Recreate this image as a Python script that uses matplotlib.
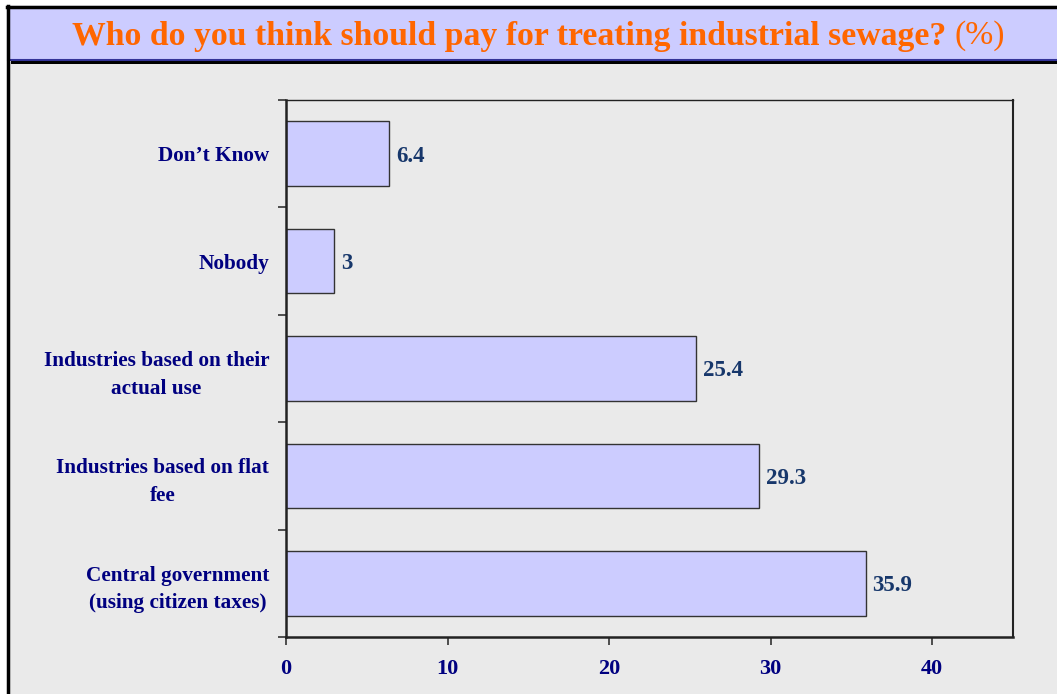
import matplotlib.pyplot as plt
from matplotlib.patches import Rectangle

# survey answers, bottom to top as drawn
categories = ['Central government\n(using citizen taxes)',
              'Industries based on flat\nfee',
              'Industries based on their\nactual use',
              'Nobody',
              'Don\u2019t Know']
values = [35.9, 29.3, 25.4, 3, 6.4]
value_labels = ['35.9', '29.3', '25.4', '3', '6.4']
xticks = [0, 10, 20, 30, 40]

TITLE = 'Who do you think should pay for treating industrial sewage?'
BG = '#eaeaea'
BAR = '#ccccff'
NAVY = '#000080'
VAL = '#17376b'
ORANGE = '#ff6600'
FONT = 'Liberation Serif'

plt.rcParams['font.family'] = FONT

fig = plt.figure(figsize=(10.57, 6.94), dpi=100)
fig.patch.set_facecolor('white')

# grey panel with black left edge
fig.patches.append(Rectangle((7 / 1057, 0), 1.0, 1 - 62 / 694, transform=fig.transFigure,
                             facecolor=BG, edgecolor='none', zorder=0))
fig.add_artist(plt.Line2D([8 / 1057, 8 / 1057], [0, 1 - 6 / 694], transform=fig.transFigure,
                          color='black', lw=2.5, zorder=3))

# title banner with shadow
fig.patches.append(Rectangle((11 / 1057, 1 - 64 / 694), 1.0, 57 / 694, transform=fig.transFigure,
                             facecolor='black', edgecolor='none', zorder=1))
fig.patches.append(Rectangle((8 / 1057, 1 - 60 / 694), 1.0, 53 / 694, transform=fig.transFigure,
                             facecolor=BAR, edgecolor='#333399', lw=1.5, zorder=2))
fig.add_artist(plt.Line2D([7 / 1057, 1], [1 - 7 / 694, 1 - 7 / 694], transform=fig.transFigure,
                          color='black', lw=2.5, zorder=3))

t = fig.text(72 / 1057, 1 - 36 / 694, TITLE, color=ORANGE, fontsize=24.3, fontweight='bold',
             va='center', ha='left', zorder=4)
fig.canvas.draw()
bb = t.get_window_extent()
fig.text(bb.x1 / 1057 + 0.008, 1 - 36 / 694, '(%)', color=ORANGE, fontsize=24.3,
         va='center', ha='left', zorder=4)

ax = fig.add_axes([286 / 1057, 1 - 637 / 694, 727 / 1057, 537 / 694])
ax.set_zorder(5)
ax.set_facecolor(BG)
pos = range(len(categories))
ax.barh(pos, values, height=0.6, color=BAR, edgecolor='#333333', lw=1, zorder=2)
for p, v, s in zip(pos, values, value_labels):
    ax.text(v + 0.4, p, s, color=VAL, fontsize=16.5, fontweight='bold', va='center_baseline', ha='left')

ax.set_xlim(0, 45)
ax.set_ylim(-0.5, len(categories) - 0.5)
ax.set_xticks(xticks)
ax.set_xticklabels([str(x) for x in xticks])
ax.set_yticks([p + 0.5 for p in range(-1, len(categories))])
ax.set_yticklabels([])
ax.set_yticks(list(pos), minor=True)
ax.set_yticklabels(categories, minor=True)
ax.tick_params(axis='y', which='minor', length=0, pad=12)
ax.tick_params(axis='y', which='major', length=6, width=1.2, direction='out', color='#333333')
ax.tick_params(axis='x', length=6, width=1.2, direction='out', pad=10, color='#333333')
for lbl in ax.get_yticklabels(minor=True):
    lbl.set_multialignment('center')
    lbl.set_linespacing(1.5)
    lbl.set_color(NAVY)
    lbl.set_fontsize(15.3)
    lbl.set_fontweight('bold')
for lbl in ax.get_xticklabels():
    lbl.set_color(NAVY)
    lbl.set_fontsize(16)
    lbl.set_fontweight('bold')

ax.spines['left'].set_linewidth(1.8)
ax.spines['bottom'].set_linewidth(1.8)
ax.spines['top'].set_linewidth(1.0)
ax.spines['right'].set_linewidth(1.5)
for s in ax.spines.values():
    s.set_color('#222222')

fig.savefig('out.png', dpi=100, facecolor=fig.get_facecolor())
